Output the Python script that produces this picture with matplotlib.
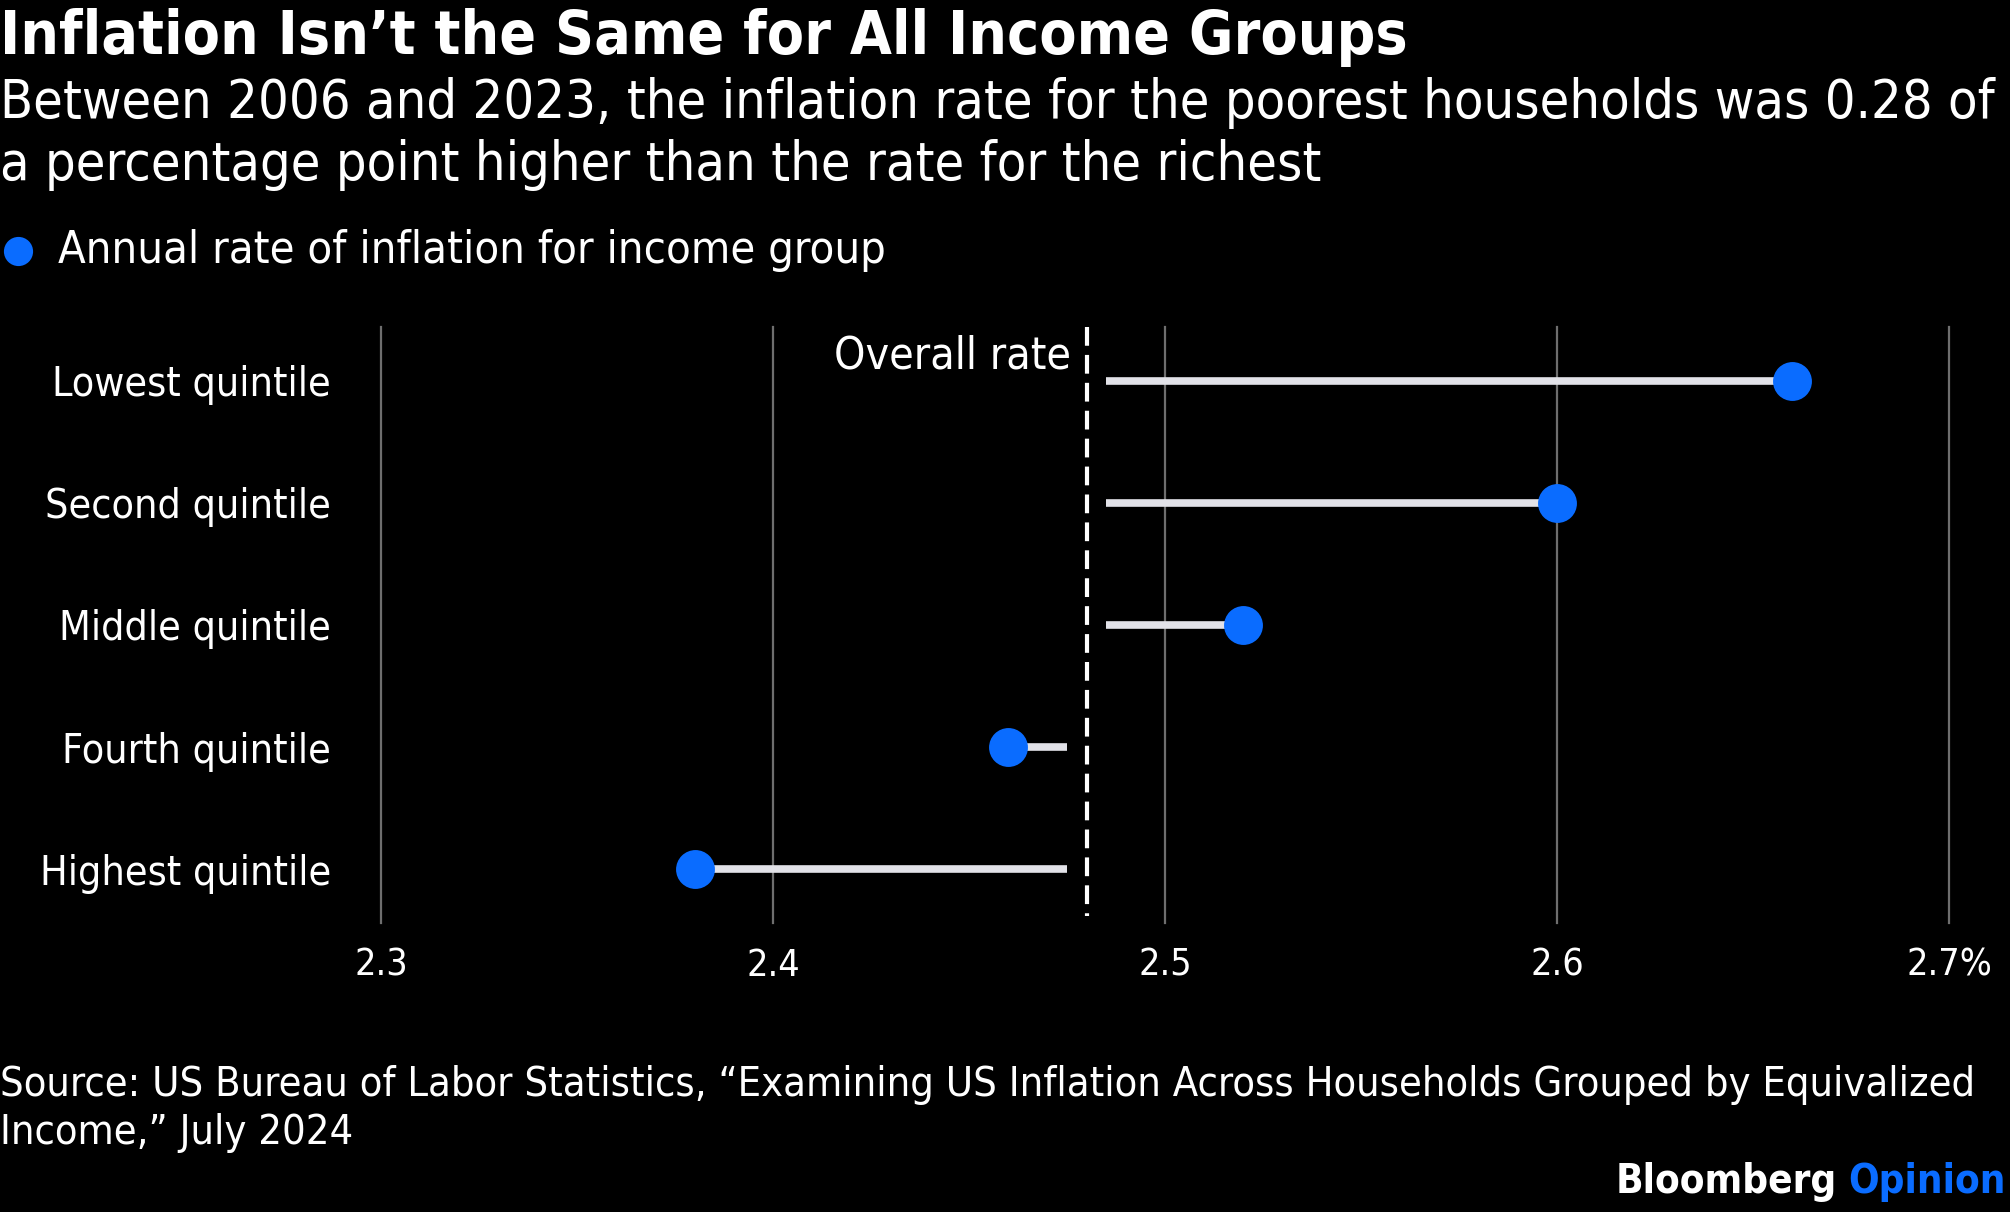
import matplotlib.pyplot as plt
from matplotlib.lines import Line2D

plt.rcParams['font.family'] = ['DejaVu Sans']
plt.rcParams['font.stretch'] = 'condensed'

groups = ['Lowest quintile', 'Second quintile', 'Middle quintile',
          'Fourth quintile', 'Highest quintile']
rates = [2.66, 2.60, 2.52, 2.46, 2.38]
overall = 2.48
ticks = [2.3, 2.4, 2.5, 2.6, 2.7]
tick_labels = ['2.3', '2.4', '2.5', '2.6', '2.7%']

BLUE = '#0a6cff'
W, H = 2010, 1212

fig = plt.figure(figsize=(W / 100, H / 100), dpi=100, facecolor='black')
ax = fig.add_axes([381 / W, 1 - 923 / H, (1949 - 381) / W, (923 - 327) / H])
ax.set_facecolor('black')
ax.set_xlim(2.3, 2.7)
ax.set_ylim(4.44, -0.44)

for t in ticks:
    ax.axvline(t, color='#6e6e6e', lw=1.6, zorder=1, clip_on=False)

gap = 0.005
for i, r in enumerate(rates):
    start = overall + gap if r > overall else overall - gap
    ax.plot([start, r], [i, i], color='#e2e2e8', lw=5.5, solid_capstyle='butt', zorder=2)
    ax.plot(r, i, 'o', color=BLUE, ms=28, mec='none', zorder=3)

ax.plot([overall, overall], [-0.44, 4.38], color='white', lw=3,
        dashes=(4.5, 2.2), zorder=4, clip_on=False)
ax.text(overall - 0.004, -0.2, 'Overall rate', color='white', fontsize=32,
        ha='right', va='center')

ax.set_xticks(ticks)
ax.set_xticklabels(tick_labels)
ax.set_yticks(range(len(groups)))
ax.set_yticklabels(groups)
ax.tick_params(axis='x', length=0, pad=18, labelsize=27, labelcolor='white')
ax.tick_params(axis='y', length=0, pad=36, labelsize=29.5, labelcolor='white')
for s in ax.spines.values():
    s.set_visible(False)

fig.text(0, 1 - 54 / H, 'Inflation Isn\u2019t the Same for All Income Groups',
         color='white', fontsize=43.5, fontweight='bold', ha='left', va='baseline')
fig.text(0, 1 - 118 / H,
         'Between 2006 and 2023, the inflation rate for the poorest households was 0.28 of',
         color='white', fontsize=38.8, ha='left', va='baseline')
fig.text(0, 1 - 180 / H, 'a percentage point higher than the rate for the richest',
         color='white', fontsize=38.8, ha='left', va='baseline')

fig.add_artist(Line2D([18 / W], [1 - 251 / H], marker='o', ms=21, color=BLUE,
                      mec='none', transform=fig.transFigure))
fig.text(58 / W, 1 - 251 / H, 'Annual rate of inflation for income group',
         color='white', fontsize=32.5, ha='left', va='center')

fig.text(0, 1 - 1096 / H,
         'Source: US Bureau of Labor Statistics, \u201cExamining US Inflation Across Households Grouped by Equivalized',
         color='white', fontsize=29.8, ha='left', va='baseline')
fig.text(0, 1 - 1144 / H, 'Income,\u201d July 2024',
         color='white', fontsize=29.8, ha='left', va='baseline')

op = fig.text(2006 / W, 1 - 1193 / H, 'Opinion', color=BLUE, fontsize=29,
              fontweight='bold', ha='right', va='baseline')
fig.canvas.draw()
bb = op.get_window_extent()
fig.text((bb.x0 - 12) / W, 1 - 1193 / H, 'Bloomberg', color='white', fontsize=29,
         fontweight='bold', ha='right', va='baseline')

fig.savefig('out.png', dpi=100, facecolor='black')
